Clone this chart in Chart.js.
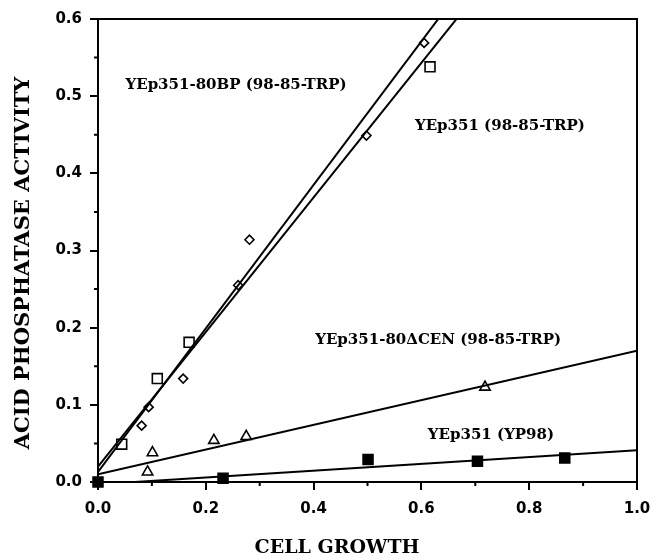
<!DOCTYPE html>
<html>
<head>
<meta charset="utf-8">
<script src="https://cdn.jsdelivr.net/npm/chart.js@4/dist/chart.umd.min.js"></script>
<style>
  html, body { margin: 0; padding: 0; background: #fff; }
  #wrap { width: 651px; height: 559px; }
</style>
</head>
<body>
<div id="wrap"><canvas id="chart" width="651" height="559"></canvas></div>
<script>
// values
const bpX = [0.081, 0.094, 0.158, 0.260, 0.281, 0.498, 0.605];
const bpY = [0.073, 0.097, 0.134, 0.255, 0.314, 0.449, 0.569];
const ctrlX = [0.044, 0.110, 0.169, 0.616];
const ctrlY = [0.049, 0.134, 0.181, 0.538];
const cenX = [0.092, 0.101, 0.215, 0.275, 0.718];
const cenY = [0.013, 0.038, 0.054, 0.059, 0.123];
const yp98X = [0.0, 0.232, 0.501, 0.704, 0.866];
const yp98Y = [0.0, 0.005, 0.029, 0.027, 0.031];

// fitted lines, value at x=0 and x=1
const fitX = [0, 1];
const bpFit = [0.013, 0.943];
const ctrlFit = [0.020, 0.892];
const cenFit = [0.010, 0.170];
const yp98Fit = [-0.003, 0.041];

const xMax = 1.0, yMax = 0.6;
const xStep = 0.2, yStep = 0.1;

const labels = [
  { text: 'YEp351-80BP (98-85-TRP)', x: 0.051, y: 0.514 },
  { text: 'YEp351 (98-85-TRP)', x: 0.588, y: 0.461 },
  { text: 'YEp351-80\u0394CEN (98-85-TRP)', x: 0.403, y: 0.184 },
  { text: 'YEp351 (YP98)', x: 0.612, y: 0.061 }
];

const pts = (xs, ys) => xs.map((x, i) => ({ x: x, y: ys[i] }));

const pointSet = (xs, ys, style, r, fill) => ({
  type: 'scatter',
  data: pts(xs, ys),
  pointStyle: style,
  pointRadius: r,
  pointHoverRadius: r,
  borderColor: '#000',
  backgroundColor: fill ? '#000' : '#fff',
  borderWidth: 1.6,
  clip: false
});

const lineSet = (ys) => ({
  type: 'line',
  data: pts(fitX, ys),
  borderColor: '#000',
  borderWidth: 2,
  pointRadius: 0,
  fill: false,
  clip: 0
});

const extras = {
  id: 'extras',
  afterDraw(chart) {
    const ctx = chart.ctx;
    const a = chart.chartArea;
    const sx = chart.scales.x, sy = chart.scales.y;
    ctx.save();
    ctx.strokeStyle = '#000';
    ctx.lineWidth = 2;
    ctx.strokeRect(a.left, a.top, a.right - a.left, a.bottom - a.top);

    // minor ticks
    ctx.beginPath();
    for (let v = yStep / 2; v < yMax; v += yStep) {
      const p = sy.getPixelForValue(v);
      ctx.moveTo(a.left - 4, p); ctx.lineTo(a.left, p);
    }
    for (let v = xStep / 2; v < xMax; v += xStep) {
      const p = sx.getPixelForValue(v);
      ctx.moveTo(p, a.bottom); ctx.lineTo(p, a.bottom + 4);
    }
    ctx.stroke();

    ctx.fillStyle = '#000';
    ctx.font = 'bold 15px "DejaVu Serif"';
    ctx.textBaseline = 'middle';
    ctx.textAlign = 'left';
    labels.forEach(l => {
      ctx.fillText(l.text, sx.getPixelForValue(l.x), sy.getPixelForValue(l.y));
    });

    ctx.font = 'bold 19px "DejaVu Serif"';
    ctx.textAlign = 'center';
    ctx.fillText('CELL GROWTH', 337, 548);

    ctx.translate(24, 263);
    ctx.rotate(-Math.PI / 2);
    ctx.font = 'bold 21px "DejaVu Serif"';
    ctx.fillText('ACID PHOSPHATASE ACTIVITY', 0, 0);
    ctx.restore();
  }
};

const tickFont = { family: 'DejaVu Sans', weight: 'bold', size: 15 };

new Chart(document.getElementById('chart'), {
  data: {
    datasets: [
      lineSet(bpFit),
      lineSet(ctrlFit),
      lineSet(cenFit),
      lineSet(yp98Fit),
      pointSet(bpX, bpY, 'rectRot', 4.5, false),
      pointSet(ctrlX, ctrlY, 'rect', 7, false),
      pointSet(cenX, cenY, 'triangle', 6, false),
      pointSet(yp98X, yp98Y, 'rect', 7, true)
    ]
  },
  options: {
    responsive: false,
    animation: false,
    layout: { padding: { top: 19, right: 14, left: 0, bottom: 0 } },
    plugins: { legend: { display: false }, tooltip: { enabled: false } },
    scales: {
      x: {
        type: 'linear',
        min: 0, max: xMax,
        border: { color: '#000', width: 2 },
        grid: { drawOnChartArea: false, tickLength: 8, color: '#000', lineWidth: 2 },
        ticks: {
          stepSize: xStep, color: '#000', font: tickFont, padding: 10,
          maxRotation: 0, autoSkip: false,
          callback: v => v.toFixed(1)
        },
        afterFit: s => { s.height = 77; s.paddingLeft = 0; s.paddingRight = 0; }
      },
      y: {
        type: 'linear',
        min: 0, max: yMax,
        border: { color: '#000', width: 2 },
        grid: { drawOnChartArea: false, tickLength: 8, color: '#000', lineWidth: 2 },
        ticks: {
          stepSize: yStep, color: '#000', font: tickFont, padding: 8,
          callback: v => v.toFixed(1)
        },
        afterFit: s => { s.width = 98; s.paddingTop = 0; s.paddingBottom = 0; }
      }
    }
  },
  plugins: [extras]
});
</script>
</body>
</html>
